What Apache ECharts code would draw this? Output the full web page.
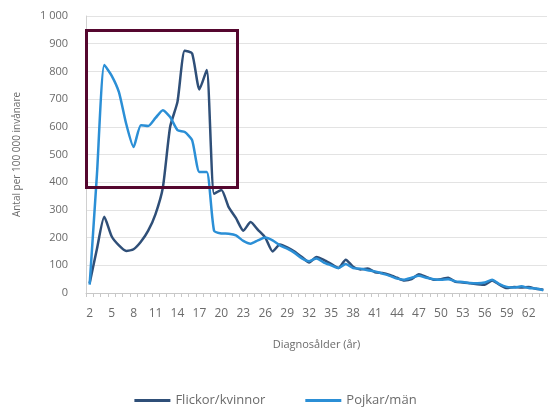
<!DOCTYPE html>
<html>
<head>
<meta charset="utf-8">
<script src="https://cdn.jsdelivr.net/npm/echarts@6/dist/echarts.min.js"></script>
<style>html,body{margin:0;padding:0;background:#fff}#c{width:551px;height:412px}</style>
</head>
<body>
<div id="c"></div>
<script>
var ages = [];
for (var a = 2; a <= 64; a++) ages.push(String(a));

var girls = [35,160,275,205,172,152,158,185,225,285,380,600,690,875,865,735,805,358,372,310,270,225,256,228,200,150,175,165,150,130,110,130,120,105,90,120,95,85,88,75,72,65,55,45,50,68,58,48,50,55,40,38,35,32,30,45,30,18,22,20,22,15,12];
var boys = [30,430,823,785,725,610,527,606,603,632,660,635,588,581,552,437,437,225,215,214,208,188,178,190,200,190,172,160,145,125,115,125,110,100,90,105,90,88,82,78,70,62,52,48,55,62,55,50,48,50,42,40,36,35,38,48,32,22,20,24,18,16,10];

var yTicks = [0,100,200,300,400,500,600,700,800,900,1000];

var chart = echarts.init(document.getElementById('c'));
var font = 'Open Sans';
chart.setOption({
  animation: false,
  textStyle: {fontFamily: font},
  grid: {left: 86, right: 4, top: 16, bottom: 119},
  xAxis: {
    type: 'category',
    data: ages,
    boundaryGap: true,
    name: 'Diagnosålder (år)',
    nameLocation: 'middle',
    nameGap: 46,
    nameTextStyle: {color: '#6b6b6b', fontSize: 11, fontFamily: font},
    axisLine: {lineStyle: {color: '#c8c8c8', width: 1}},
    axisTick: {show: true, interval: 0, length: 4, lineStyle: {color: '#c8c8c8'}},
    axisLabel: {interval: 2, color: '#6b6b6b', fontSize: 12, margin: 15}
  },
  yAxis: {
    type: 'value',
    min: 0, max: 1000, interval: 100,
    name: 'Antal per 100 000 invånare',
    nameLocation: 'middle',
    nameGap: 64,
    nameTextStyle: {color: '#6b6b6b', fontSize: 10, fontFamily: font},
    axisLine: {show: true, lineStyle: {color: '#d0d0d0'}},
    axisTick: {show: false},
    splitLine: {lineStyle: {color: '#e3e3e3'}},
    axisLabel: {
      color: '#6b6b6b', fontSize: 11, margin: 18,
      formatter: function (v) { return v >= 1000 ? String(v).replace(/(\d)(\d{3})$/, '$1 $2') : String(v); }
    }
  },
  legend: {
    bottom: 0, left: 'center', itemGap: 40, itemWidth: 36, itemHeight: 3,
    icon: 'rect',
    textStyle: {color: '#6b6b6b', fontSize: 13, fontFamily: font},
    data: ['Flickor/kvinnor', 'Pojkar/män']
  },
  series: [
    {name: 'Flickor/kvinnor', type: 'line', data: girls, showSymbol: false, smooth: 0.2,
     lineStyle: {color: '#2f4f78', width: 2.5}, itemStyle: {color: '#2f4f78'}},
    {name: 'Pojkar/män', type: 'line', data: boys, showSymbol: false, smooth: 0.2,
     lineStyle: {color: '#2b8fd6', width: 2.5}, itemStyle: {color: '#2b8fd6'}}
  ],
  graphic: [{
    type: 'rect', left: 84, top: 28, z: 100,
    shape: {width: 151, height: 157},
    style: {fill: 'none', stroke: '#55072f', lineWidth: 3}
  }]
});
</script>
</body>
</html>
